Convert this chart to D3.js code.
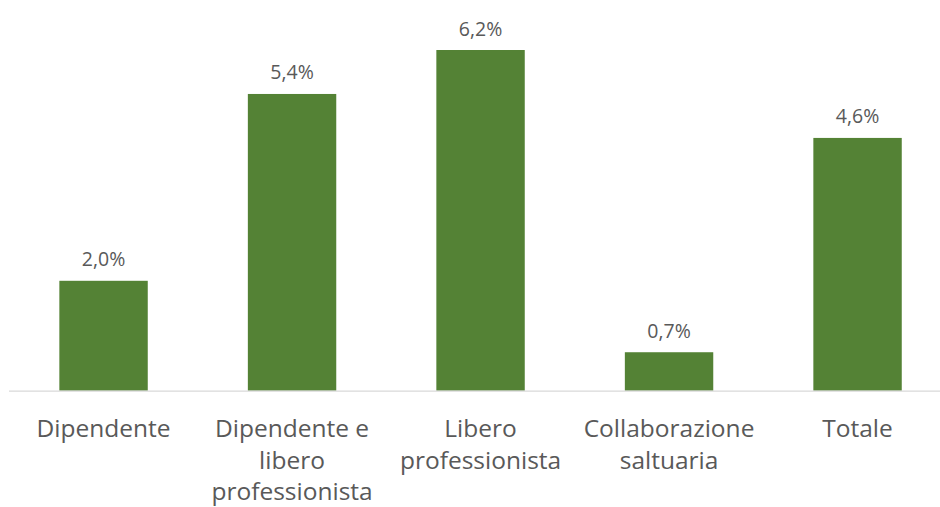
<!DOCTYPE html>
<html>
<head>
<meta charset="utf-8">
<script src="https://cdn.jsdelivr.net/npm/d3@7"></script>
<style>
  body { margin: 0; background: #fff; }
  text { font-family: "Open Sans", "Noto Sans", sans-serif; fill: #595959; }
</style>
</head>
<body>
<div id="chart"></div>
<script>
// data
var categories = ["Dipendente", "Dipendente e libero professionista", "Libero professionista", "Collaborazione saltuaria", "Totale"];
var catLines = [["Dipendente"], ["Dipendente e", "libero", "professionista"], ["Libero", "professionista"], ["Collaborazione", "saltuaria"], ["Totale"]];
var values = [2.0, 5.4, 6.2, 0.7, 4.6];

var width = 940, height = 507;
var baseY = 390.7;

var svg = d3.select("#chart")
    .append("svg")
    .attr("width", width)
    .attr("height", height);

var x = d3.scaleBand()
    .domain(categories)
    .range([9.3, 951.8])
    .paddingInner(0.531)
    .paddingOuter(0.2655);

var y = d3.scaleLinear()
    .domain([0, 7.11])
    .range([baseY, 0]);

var fmt = function(d) { return d.toFixed(1).replace(".", ",") + "%"; };

// bars
svg.selectAll("rect.bar")
    .data(values)
    .enter()
    .append("rect")
    .attr("class", "bar")
    .attr("x", function(d, i) { return x(categories[i]); })
    .attr("y", function(d) { return y(d); })
    .attr("width", x.bandwidth())
    .attr("height", function(d) { return baseY - y(d); })
    .attr("fill", "#548235");

// axis line
svg.append("line")
    .attr("x1", 9)
    .attr("x2", width)
    .attr("y1", baseY + 0.5)
    .attr("y2", baseY + 0.5)
    .attr("stroke", "#d9d9d9")
    .attr("stroke-width", 1.2);

// value labels
svg.selectAll("text.val")
    .data(values)
    .enter()
    .append("text")
    .attr("class", "val")
    .attr("x", function(d, i) { return x(categories[i]) + x.bandwidth() / 2; })
    .attr("y", function(d) { return y(d) - 14.5; })
    .attr("text-anchor", "middle")
    .style("font-size", "19.5px")
    .text(fmt);

// category labels
var cat = svg.selectAll("text.cat")
    .data(catLines)
    .enter()
    .append("text")
    .attr("class", "cat")
    .attr("text-anchor", "middle")
    .style("font-size", "24.5px");

cat.selectAll("tspan")
    .data(function(d, i) { return d.map(function(t) { return {t: t, i: i}; }); })
    .enter()
    .append("tspan")
    .attr("x", function(d) { return x(categories[d.i]) + x.bandwidth() / 2; })
    .attr("y", function(d, j) { return 437 + j * 31.5; })
    .text(function(d) { return d.t; });
</script>
</body>
</html>
